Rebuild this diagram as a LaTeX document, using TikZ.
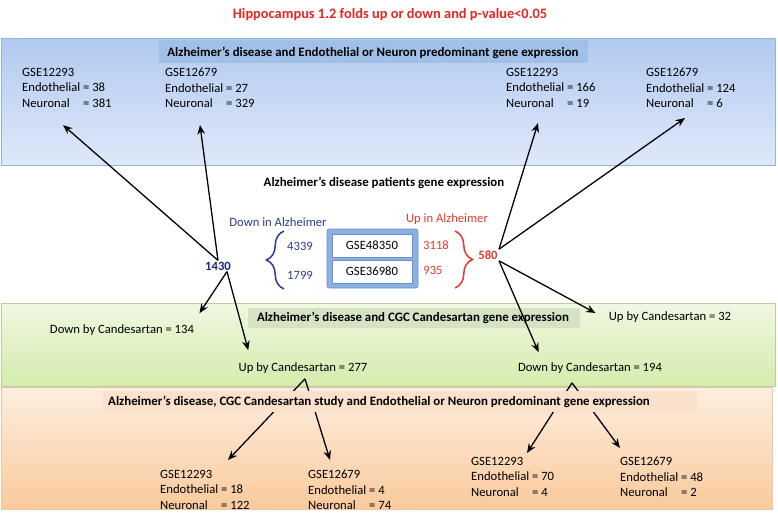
\documentclass[tikz,border=0pt]{standalone}
\usepackage{fontspec}
\setmainfont{Carlito}
\usetikzlibrary{arrows.meta,positioning,calc,decorations.pathreplacing}

\definecolor{titlered}{RGB}{226,40,36}
\definecolor{adred}{RGB}{222,60,45}
\definecolor{adnavy}{RGB}{45,60,145}
\definecolor{darknavy}{RGB}{30,40,120}
\definecolor{bluetop}{RGB}{178,201,240}
\definecolor{bluebot}{RGB}{222,233,250}
\definecolor{blueedge}{RGB}{150,178,215}
\definecolor{bluebar}{RGB}{160,192,232}
\definecolor{greentop}{RGB}{240,248,226}
\definecolor{greenbot}{RGB}{212,236,172}
\definecolor{greenedge}{RGB}{190,204,160}
\definecolor{greenbar}{RGB}{214,226,196}
\definecolor{orangetop}{RGB}{253,238,224}
\definecolor{orangebot}{RGB}{250,202,156}
\definecolor{orangeedge}{RGB}{232,200,170}
\definecolor{orangebar}{RGB}{251,224,204}
\definecolor{boxfill}{RGB}{140,176,224}
\definecolor{boxedge}{RGB}{105,145,205}

\tikzstyle{line} = [draw, line width=1.1pt, -{Stealth[length=8pt,width=6.5pt]}]
\tikzstyle{panel} = [draw, line width=0.6pt]
\tikzstyle{header} = [inner sep=0pt, font=\bfseries\fontsize{11}{13}\selectfont]
\tikzstyle{info} = [anchor=north west, inner sep=0pt, align=left,
font=\fontsize{10.8}{13.2}\selectfont]
\tikzstyle{lbl} = [inner sep=1pt, font=\fontsize{10.8}{13}\selectfont]
\tikzstyle{gse} = [draw=boxedge, fill=white, minimum width=2.4cm,
minimum height=0.69cm, inner sep=0pt, font=\fontsize{10.8}{13}\selectfont]
\tikzstyle{bracket} = [line width=1.3pt, decorate,
decoration={brace, amplitude=15pt}]

\newcommand{\neur}{\rlap{Neuronal}\phantom{Endothelial}}

\begin{document}
\begin{tikzpicture}[x=0.03cm, y=-0.03cm]
	\useasboundingbox (0,0) rectangle (778,518);
	% Panels
	\shade[panel, draw=blueedge, top color=bluetop, bottom color=bluebot] (1,38) rectangle (775,165);
	\shade[panel, draw=greenedge, top color=greentop, bottom color=greenbot] (1,303) rectangle (775,386);
	\shade[panel, draw=orangeedge, top color=orangetop, bottom color=orangebot] (1,387) rectangle (772,509);
	\fill[bluebar] (159,40) rectangle (588,63);
	\fill[greenbar] (248,308) rectangle (580,328);

	% Place nodes
	\node [font=\bfseries\fontsize{12.3}{15}\selectfont, text=titlered] (title) at (390,15) {Hippocampus 1.2 folds up or down and p-value<0.05};
	\node [header] (hBlue) at (373,53) {Alzheimer’s disease and Endothelial or Neuron predominant gene expression};
	\node [info] (tA) at (22,68) {GSE12293\\Endothelial = 38\\\neur{} = 381};
	\node [info] (tB) at (165,68) {GSE12679\\Endothelial = 27\\\neur{} = 329};
	\node [info] (tC) at (506,68) {GSE12293\\Endothelial = 166\\\neur{} = 19};
	\node [info] (tD) at (646,68) {GSE12679\\Endothelial = 124\\\neur{} = 6};

	\node [header] (hPat) at (384,183) {Alzheimer’s disease patients gene expression};
	\node [lbl, text=adnavy] (downAD) at (278,222) {Down in Alzheimer};
	\node [lbl, text=adred] (upAD) at (447,219) {Up in Alzheimer};
	\draw [rounded corners=2pt, draw=boxedge, fill=boxfill, line width=0.6pt] (327,229) rectangle (418,288);
	\node [gse] (g48) at (372,245.5) {GSE48350};
	\node [gse] (g36) at (372,271.5) {GSE36980};
	\node [lbl, text=adnavy] (d4339) at (300,246) {4339};
	\node [lbl, text=adnavy] (d1799) at (300,275) {1799};
	\node [lbl, text=adred] (u3118) at (436,245) {3118};
	\node [lbl, text=adred] (u935) at (433,270) {935};
	\draw [bracket, adnavy] (284,289) -- (284,231);
	\draw [bracket, adred] (455,231) -- (455,288);
	\node [lbl, font=\bfseries\fontsize{10.8}{13}\selectfont, text=darknavy] (n1430) at (218,266) {1430};
	\node [lbl, font=\bfseries\fontsize{10.8}{13}\selectfont, text=adred] (n580) at (488,255) {580};

	\node [header] (hCgc) at (413,318) {Alzheimer’s disease and CGC Candesartan gene expression};
	\node [lbl] (d134) at (122,330) {Down by Candesartan = 134};
	\node [lbl] (u277) at (303,368) {Up by Candesartan = 277};
	\node [lbl] (u32) at (670,317) {Up by Candesartan = 32};
	\node [lbl] (d194) at (590,368) {Down by Candesartan = 194};

	\node [info] (bA) at (160,470) {GSE12293\\Endothelial = 18\\\neur{} = 122};
	\node [info] (bB) at (308,470) {GSE12679\\Endothelial = 4\\\neur{} = 74};
	\node [info] (bC) at (471,457) {GSE12293\\Endothelial = 70\\\neur{} = 4};
	\node [info] (bD) at (620,457) {GSE12679\\Endothelial = 48\\\neur{} = 2};

	\path [line] (n1430.north) -- ($(tA.north west)+(41,57)$);
	\path [line] (n1430.north) -- ($(tB.north west)+(35,57)$);
	\path [line] (n580.north east) -- ($(tC.north west)+(32,55)$);
	\path [line] (n580.north east) -- ($(tD.north west)+(39,50)$);
	\path [line] ($(n1430.south)+(9,0)$) -- ($(d134.north east)+(4,-10)$);
	\path [line] ($(n1430.south)+(9,0)$) -- ($(u277.north west)+(11,-11)$);
	\path [line] (n580.south east) -- ($(u32.west)+(-12,-4)$);
	\path [line] (n580.south east) -- ($(d194.north west)+(22,-9)$);
	\path [line] ($(u277.south)+(2,4)$) -- ($(bA.north west)+(68,-10)$);
	\path [line] ($(u277.south)+(2,4)$) -- ($(bB.north west)+(22,-10)$);
	\path [line] ($(d194.south)+(-18,8)$) -- ($(bC.north west)+(56,-4)$);
	\path [line] ($(d194.south)+(-18,8)$) -- ($(bD.north west)+(0,-9)$);

	\fill[orangebar] (103,391) rectangle (697,412);
	\node [header, anchor=west] (hStudy) at (108,402) {Alzheimer’s disease, CGC Candesartan study and Endothelial or Neuron predominant gene expression};
\end{tikzpicture}
\end{document}
